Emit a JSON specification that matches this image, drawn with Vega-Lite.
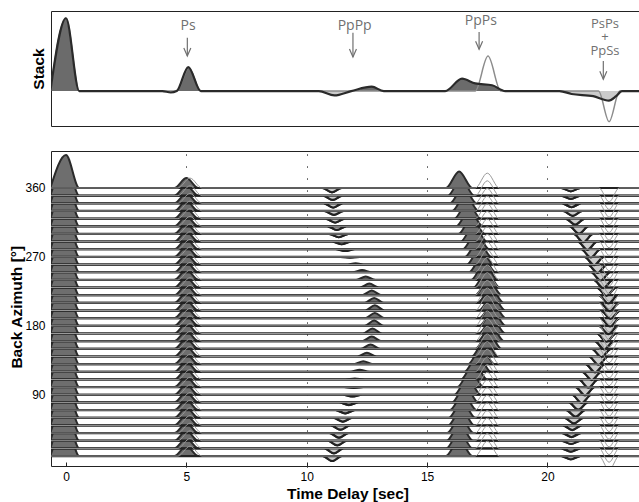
{"$schema":"https://vega.github.io/schema/vega-lite/v6.json","padding":{"left":9,"top":10,"right":0,"bottom":0},"background":"white",
"config":{"view":{"stroke":"#222","strokeWidth":1},"font":"Liberation Sans","axis":{"labelColor":"#000","titleColor":"#000","labelFontSize":12,"titleFontSize":15.5,"titleFontWeight":"bold","domain":false,"grid":false}},
"datasets":{
"sd":[{"t":-0.65,"a":0},{"t":0,"a":1},{"t":0.55,"a":0},{"t":4.0,"a":0},{"t":4.35,"a":-0.02},{"t":4.6,"a":0},{"t":5.08,"a":0.33},{"t":5.6,"a":0},{"t":10.5,"a":0},{"t":11.15,"a":-0.06},{"t":11.85,"a":0},{"t":12.7,"a":0.06},{"t":13.2,"a":0},{"t":15.75,"a":0},{"t":16.45,"a":0.17},{"t":17.0,"a":0.105},{"t":17.7,"a":0.08},{"t":18.25,"a":0},{"t":20.5,"a":0},{"t":21.0,"a":-0.04},{"t":21.9,"a":-0.07},{"t":22.55,"a":-0.13},{"t":22.85,"a":-0.07},{"t":23.1,"a":0},{"t":24.2,"a":0}],
"sg":[{"t":-0.65,"a":0},{"t":0,"a":1},{"t":0.55,"a":0},{"t":4.6,"a":0},{"t":5.1,"a":0.32},{"t":5.6,"a":0},{"t":17.0,"a":0},{"t":17.53,"a":0.48},{"t":18.06,"a":0},{"t":22.12,"a":0},{"t":22.56,"a":-0.42},{"t":23.0,"a":0},{"t":24.2,"a":0}],
"lab":[{"t":5.07,"y":0.894,"s":"Ps"},{"t":11.99,"y":0.894,"s":"PpPp"},{"t":17.23,"y":0.963,"s":"PpPs"}],
"lab2":[{"t":22.39,"y":0.928,"s":["PsPs","+","PpSs"]}],
"arr":[{"t":5.04,"y1":0.733,"y2":0.482},{"t":11.92,"y1":0.802,"y2":0.468},{"t":17.16,"y1":0.812,"y2":0.574},{"t":22.32,"y1":0.413,"y2":0.162}],
"td":[
{"b":10,"t":-0.65,"a":0},{"b":10,"t":0,"a":1},{"b":10,"t":0.55,"a":0},{"b":10,"t":4.5,"a":0},{"b":10,"t":5,"a":0.3},{"b":10,"t":5.5,"a":0},{"b":10,"t":10.66,"a":0},{"b":10,"t":11.06,"a":-0.15},{"b":10,"t":11.46,"a":0},{"b":10,"t":15.78,"a":0},{"b":10,"t":16.33,"a":0.5},{"b":10,"t":16.88,"a":0},{"b":10,"t":20.57,"a":0},{"b":10,"t":20.97,"a":-0.1},{"b":10,"t":21.37,"a":0},{"b":10,"t":24.2,"a":0},
{"b":20,"t":-0.65,"a":0},{"b":20,"t":0,"a":1},{"b":20,"t":0.55,"a":0},{"b":20,"t":4.5,"a":0},{"b":20,"t":5,"a":0.3},{"b":20,"t":5.5,"a":0},{"b":20,"t":10.73,"a":0},{"b":20,"t":11.13,"a":-0.15},{"b":20,"t":11.53,"a":0},{"b":20,"t":15.79,"a":0},{"b":20,"t":16.34,"a":0.5},{"b":20,"t":16.89,"a":0},{"b":20,"t":20.57,"a":0},{"b":20,"t":20.97,"a":-0.1},{"b":20,"t":21.37,"a":0},{"b":20,"t":24.2,"a":0},
{"b":30,"t":-0.65,"a":0},{"b":30,"t":0,"a":1},{"b":30,"t":0.55,"a":0},{"b":30,"t":4.5,"a":0},{"b":30,"t":5,"a":0.3},{"b":30,"t":5.5,"a":0},{"b":30,"t":10.87,"a":0},{"b":30,"t":11.27,"a":-0.14},{"b":30,"t":11.67,"a":0},{"b":30,"t":15.81,"a":0},{"b":30,"t":16.36,"a":0.5},{"b":30,"t":16.91,"a":0},{"b":30,"t":20.58,"a":0},{"b":30,"t":20.98,"a":-0.1},{"b":30,"t":21.38,"a":0},{"b":30,"t":24.2,"a":0},
{"b":40,"t":-0.65,"a":0},{"b":40,"t":0,"a":1},{"b":40,"t":0.55,"a":0},{"b":40,"t":4.5,"a":0},{"b":40,"t":5,"a":0.3},{"b":40,"t":5.5,"a":0},{"b":40,"t":10.94,"a":0},{"b":40,"t":11.34,"a":-0.14},{"b":40,"t":11.74,"a":0},{"b":40,"t":15.83,"a":0},{"b":40,"t":16.38,"a":0.5},{"b":40,"t":16.93,"a":0},{"b":40,"t":20.6,"a":0},{"b":40,"t":21.0,"a":-0.12},{"b":40,"t":21.4,"a":0},{"b":40,"t":24.2,"a":0},
{"b":50,"t":-0.65,"a":0},{"b":50,"t":0,"a":1},{"b":50,"t":0.55,"a":0},{"b":50,"t":4.5,"a":0},{"b":50,"t":5,"a":0.3},{"b":50,"t":5.5,"a":0},{"b":50,"t":11.0,"a":0},{"b":50,"t":11.4,"a":-0.13},{"b":50,"t":11.8,"a":0},{"b":50,"t":15.87,"a":0},{"b":50,"t":16.42,"a":0.5},{"b":50,"t":16.97,"a":0},{"b":50,"t":20.63,"a":0},{"b":50,"t":21.03,"a":-0.14},{"b":50,"t":21.43,"a":0},{"b":50,"t":24.2,"a":0},
{"b":60,"t":-0.65,"a":0},{"b":60,"t":0,"a":1},{"b":60,"t":0.55,"a":0},{"b":60,"t":4.5,"a":0},{"b":60,"t":5,"a":0.3},{"b":60,"t":5.5,"a":0},{"b":60,"t":11.1,"a":0},{"b":60,"t":11.5,"a":-0.12},{"b":60,"t":11.9,"a":0},{"b":60,"t":15.9,"a":0},{"b":60,"t":16.45,"a":0.5},{"b":60,"t":17.0,"a":0},{"b":60,"t":20.7,"a":0},{"b":60,"t":21.1,"a":-0.17},{"b":60,"t":21.5,"a":0},{"b":60,"t":24.2,"a":0},
{"b":70,"t":-0.65,"a":0},{"b":70,"t":0,"a":1},{"b":70,"t":0.55,"a":0},{"b":70,"t":4.5,"a":0},{"b":70,"t":5,"a":0.3},{"b":70,"t":5.5,"a":0},{"b":70,"t":11.2,"a":0},{"b":70,"t":11.6,"a":-0.1},{"b":70,"t":12.0,"a":0},{"b":70,"t":15.95,"a":0},{"b":70,"t":16.5,"a":0.5},{"b":70,"t":17.05,"a":0},{"b":70,"t":20.77,"a":0},{"b":70,"t":21.17,"a":-0.2},{"b":70,"t":21.57,"a":0},{"b":70,"t":24.2,"a":0},
{"b":80,"t":-0.65,"a":0},{"b":80,"t":0,"a":1},{"b":80,"t":0.55,"a":0},{"b":80,"t":4.5,"a":0},{"b":80,"t":5,"a":0.3},{"b":80,"t":5.5,"a":0},{"b":80,"t":11.35,"a":0},{"b":80,"t":11.75,"a":-0.08},{"b":80,"t":12.15,"a":0},{"b":80,"t":16.03,"a":0},{"b":80,"t":16.58,"a":0.5},{"b":80,"t":17.13,"a":0},{"b":80,"t":20.88,"a":0},{"b":80,"t":21.28,"a":-0.22},{"b":80,"t":21.68,"a":0},{"b":80,"t":24.2,"a":0},
{"b":90,"t":-0.65,"a":0},{"b":90,"t":0,"a":1},{"b":90,"t":0.55,"a":0},{"b":90,"t":4.5,"a":0},{"b":90,"t":5,"a":0.3},{"b":90,"t":5.5,"a":0},{"b":90,"t":11.5,"a":0},{"b":90,"t":11.9,"a":-0.05},{"b":90,"t":12.3,"a":0},{"b":90,"t":16.13,"a":0},{"b":90,"t":16.68,"a":0.5},{"b":90,"t":17.23,"a":0},{"b":90,"t":21.02,"a":0},{"b":90,"t":21.42,"a":-0.25},{"b":90,"t":21.82,"a":0},{"b":90,"t":24.2,"a":0},
{"b":100,"t":-0.65,"a":0},{"b":100,"t":0,"a":1},{"b":100,"t":0.55,"a":0},{"b":100,"t":4.5,"a":0},{"b":100,"t":5,"a":0.3},{"b":100,"t":5.5,"a":0},{"b":100,"t":11.55,"a":0},{"b":100,"t":11.95,"a":-0.02},{"b":100,"t":12.35,"a":0},{"b":100,"t":16.25,"a":0},{"b":100,"t":16.8,"a":0.5},{"b":100,"t":17.35,"a":0},{"b":100,"t":21.16,"a":0},{"b":100,"t":21.56,"a":-0.25},{"b":100,"t":21.96,"a":0},{"b":100,"t":24.2,"a":0},
{"b":110,"t":-0.65,"a":0},{"b":110,"t":0,"a":1},{"b":110,"t":0.55,"a":0},{"b":110,"t":4.5,"a":0},{"b":110,"t":5,"a":0.3},{"b":110,"t":5.5,"a":0},{"b":110,"t":11.6,"a":0},{"b":110,"t":12.0,"a":0.03},{"b":110,"t":12.4,"a":0},{"b":110,"t":16.4,"a":0},{"b":110,"t":16.95,"a":0.5},{"b":110,"t":17.5,"a":0},{"b":110,"t":21.3,"a":0},{"b":110,"t":21.7,"a":-0.25},{"b":110,"t":22.1,"a":0},{"b":110,"t":24.2,"a":0},
{"b":120,"t":-0.65,"a":0},{"b":120,"t":0,"a":1},{"b":120,"t":0.55,"a":0},{"b":120,"t":4.5,"a":0},{"b":120,"t":5,"a":0.3},{"b":120,"t":5.5,"a":0},{"b":120,"t":11.8,"a":0},{"b":120,"t":12.2,"a":0.06},{"b":120,"t":12.6,"a":0},{"b":120,"t":16.55,"a":0},{"b":120,"t":17.1,"a":0.5},{"b":120,"t":17.65,"a":0},{"b":120,"t":21.44,"a":0},{"b":120,"t":21.84,"a":-0.25},{"b":120,"t":22.24,"a":0},{"b":120,"t":24.2,"a":0},
{"b":130,"t":-0.65,"a":0},{"b":130,"t":0,"a":1},{"b":130,"t":0.55,"a":0},{"b":130,"t":4.5,"a":0},{"b":130,"t":5,"a":0.3},{"b":130,"t":5.5,"a":0},{"b":130,"t":11.95,"a":0},{"b":130,"t":12.35,"a":0.09},{"b":130,"t":12.75,"a":0},{"b":130,"t":16.7,"a":0},{"b":130,"t":17.25,"a":0.5},{"b":130,"t":17.8,"a":0},{"b":130,"t":21.58,"a":0},{"b":130,"t":21.98,"a":-0.25},{"b":130,"t":22.38,"a":0},{"b":130,"t":24.2,"a":0},
{"b":140,"t":-0.65,"a":0},{"b":140,"t":0,"a":1},{"b":140,"t":0.55,"a":0},{"b":140,"t":4.5,"a":0},{"b":140,"t":5,"a":0.3},{"b":140,"t":5.5,"a":0},{"b":140,"t":12.1,"a":0},{"b":140,"t":12.5,"a":0.11},{"b":140,"t":12.9,"a":0},{"b":140,"t":16.85,"a":0},{"b":140,"t":17.4,"a":0.5},{"b":140,"t":17.95,"a":0},{"b":140,"t":21.72,"a":0},{"b":140,"t":22.12,"a":-0.25},{"b":140,"t":22.52,"a":0},{"b":140,"t":24.2,"a":0},
{"b":150,"t":-0.65,"a":0},{"b":150,"t":0,"a":1},{"b":150,"t":0.55,"a":0},{"b":150,"t":4.5,"a":0},{"b":150,"t":5,"a":0.3},{"b":150,"t":5.5,"a":0},{"b":150,"t":12.25,"a":0},{"b":150,"t":12.65,"a":0.13},{"b":150,"t":13.05,"a":0},{"b":150,"t":17.0,"a":0},{"b":150,"t":17.55,"a":0.48},{"b":150,"t":18.1,"a":0},{"b":150,"t":21.84,"a":0},{"b":150,"t":22.24,"a":-0.25},{"b":150,"t":22.64,"a":0},{"b":150,"t":24.2,"a":0},
{"b":160,"t":-0.65,"a":0},{"b":160,"t":0,"a":1},{"b":160,"t":0.55,"a":0},{"b":160,"t":4.5,"a":0},{"b":160,"t":5,"a":0.3},{"b":160,"t":5.5,"a":0},{"b":160,"t":12.3,"a":0},{"b":160,"t":12.7,"a":0.14},{"b":160,"t":13.1,"a":0},{"b":160,"t":17.1,"a":0},{"b":160,"t":17.65,"a":0.46},{"b":160,"t":18.2,"a":0},{"b":160,"t":21.96,"a":0},{"b":160,"t":22.36,"a":-0.25},{"b":160,"t":22.76,"a":0},{"b":160,"t":24.2,"a":0},
{"b":170,"t":-0.65,"a":0},{"b":170,"t":0,"a":1},{"b":170,"t":0.55,"a":0},{"b":170,"t":4.5,"a":0},{"b":170,"t":5,"a":0.3},{"b":170,"t":5.5,"a":0},{"b":170,"t":12.33,"a":0},{"b":170,"t":12.73,"a":0.15},{"b":170,"t":13.13,"a":0},{"b":170,"t":17.15,"a":0},{"b":170,"t":17.7,"a":0.45},{"b":170,"t":18.25,"a":0},{"b":170,"t":22.05,"a":0},{"b":170,"t":22.45,"a":-0.25},{"b":170,"t":22.85,"a":0},{"b":170,"t":24.2,"a":0},
{"b":180,"t":-0.65,"a":0},{"b":180,"t":0,"a":1},{"b":180,"t":0.55,"a":0},{"b":180,"t":4.5,"a":0},{"b":180,"t":5,"a":0.3},{"b":180,"t":5.5,"a":0},{"b":180,"t":12.4,"a":0},{"b":180,"t":12.8,"a":0.16},{"b":180,"t":13.2,"a":0},{"b":180,"t":17.17,"a":0},{"b":180,"t":17.72,"a":0.45},{"b":180,"t":18.27,"a":0},{"b":180,"t":22.13,"a":0},{"b":180,"t":22.53,"a":-0.25},{"b":180,"t":22.93,"a":0},{"b":180,"t":24.2,"a":0},
{"b":190,"t":-0.65,"a":0},{"b":190,"t":0,"a":1},{"b":190,"t":0.55,"a":0},{"b":190,"t":4.5,"a":0},{"b":190,"t":5,"a":0.3},{"b":190,"t":5.5,"a":0},{"b":190,"t":12.43,"a":0},{"b":190,"t":12.83,"a":0.16},{"b":190,"t":13.23,"a":0},{"b":190,"t":17.17,"a":0},{"b":190,"t":17.72,"a":0.45},{"b":190,"t":18.27,"a":0},{"b":190,"t":22.2,"a":0},{"b":190,"t":22.6,"a":-0.25},{"b":190,"t":23.0,"a":0},{"b":190,"t":24.2,"a":0},
{"b":200,"t":-0.65,"a":0},{"b":200,"t":0,"a":1},{"b":200,"t":0.55,"a":0},{"b":200,"t":4.5,"a":0},{"b":200,"t":5,"a":0.3},{"b":200,"t":5.5,"a":0},{"b":200,"t":12.43,"a":0},{"b":200,"t":12.83,"a":0.16},{"b":200,"t":13.23,"a":0},{"b":200,"t":17.15,"a":0},{"b":200,"t":17.7,"a":0.45},{"b":200,"t":18.25,"a":0},{"b":200,"t":22.22,"a":0},{"b":200,"t":22.62,"a":-0.25},{"b":200,"t":23.02,"a":0},{"b":200,"t":24.2,"a":0},
{"b":210,"t":-0.65,"a":0},{"b":210,"t":0,"a":1},{"b":210,"t":0.55,"a":0},{"b":210,"t":4.5,"a":0},{"b":210,"t":5,"a":0.3},{"b":210,"t":5.5,"a":0},{"b":210,"t":12.4,"a":0},{"b":210,"t":12.8,"a":0.15},{"b":210,"t":13.2,"a":0},{"b":210,"t":17.09,"a":0},{"b":210,"t":17.64,"a":0.45},{"b":210,"t":18.19,"a":0},{"b":210,"t":22.19,"a":0},{"b":210,"t":22.59,"a":-0.25},{"b":210,"t":22.99,"a":0},{"b":210,"t":24.2,"a":0},
{"b":220,"t":-0.65,"a":0},{"b":220,"t":0,"a":1},{"b":220,"t":0.55,"a":0},{"b":220,"t":4.5,"a":0},{"b":220,"t":5,"a":0.3},{"b":220,"t":5.5,"a":0},{"b":220,"t":12.3,"a":0},{"b":220,"t":12.7,"a":0.14},{"b":220,"t":13.1,"a":0},{"b":220,"t":17.0,"a":0},{"b":220,"t":17.55,"a":0.46},{"b":220,"t":18.1,"a":0},{"b":220,"t":22.13,"a":0},{"b":220,"t":22.53,"a":-0.25},{"b":220,"t":22.93,"a":0},{"b":220,"t":24.2,"a":0},
{"b":230,"t":-0.65,"a":0},{"b":230,"t":0,"a":1},{"b":230,"t":0.55,"a":0},{"b":230,"t":4.5,"a":0},{"b":230,"t":5,"a":0.3},{"b":230,"t":5.5,"a":0},{"b":230,"t":12.2,"a":0},{"b":230,"t":12.6,"a":0.12},{"b":230,"t":13.0,"a":0},{"b":230,"t":16.92,"a":0},{"b":230,"t":17.47,"a":0.48},{"b":230,"t":18.02,"a":0},{"b":230,"t":22.05,"a":0},{"b":230,"t":22.45,"a":-0.25},{"b":230,"t":22.85,"a":0},{"b":230,"t":24.2,"a":0},
{"b":240,"t":-0.65,"a":0},{"b":240,"t":0,"a":1},{"b":240,"t":0.55,"a":0},{"b":240,"t":4.5,"a":0},{"b":240,"t":5,"a":0.3},{"b":240,"t":5.5,"a":0},{"b":240,"t":12.05,"a":0},{"b":240,"t":12.45,"a":0.1},{"b":240,"t":12.85,"a":0},{"b":240,"t":16.83,"a":0},{"b":240,"t":17.38,"a":0.5},{"b":240,"t":17.93,"a":0},{"b":240,"t":21.92,"a":0},{"b":240,"t":22.32,"a":-0.25},{"b":240,"t":22.72,"a":0},{"b":240,"t":24.2,"a":0},
{"b":250,"t":-0.65,"a":0},{"b":250,"t":0,"a":1},{"b":250,"t":0.55,"a":0},{"b":250,"t":4.5,"a":0},{"b":250,"t":5,"a":0.3},{"b":250,"t":5.5,"a":0},{"b":250,"t":11.9,"a":0},{"b":250,"t":12.3,"a":0.07},{"b":250,"t":12.7,"a":0},{"b":250,"t":16.74,"a":0},{"b":250,"t":17.29,"a":0.5},{"b":250,"t":17.84,"a":0},{"b":250,"t":21.81,"a":0},{"b":250,"t":22.21,"a":-0.25},{"b":250,"t":22.61,"a":0},{"b":250,"t":24.2,"a":0},
{"b":260,"t":-0.65,"a":0},{"b":260,"t":0,"a":1},{"b":260,"t":0.55,"a":0},{"b":260,"t":4.5,"a":0},{"b":260,"t":5,"a":0.3},{"b":260,"t":5.5,"a":0},{"b":260,"t":11.63,"a":0},{"b":260,"t":12.03,"a":0.04},{"b":260,"t":12.43,"a":0},{"b":260,"t":16.65,"a":0},{"b":260,"t":17.2,"a":0.5},{"b":260,"t":17.75,"a":0},{"b":260,"t":21.68,"a":0},{"b":260,"t":22.08,"a":-0.25},{"b":260,"t":22.48,"a":0},{"b":260,"t":24.2,"a":0},
{"b":270,"t":-0.65,"a":0},{"b":270,"t":0,"a":1},{"b":270,"t":0.55,"a":0},{"b":270,"t":4.5,"a":0},{"b":270,"t":5,"a":0.3},{"b":270,"t":5.5,"a":0},{"b":270,"t":11.4,"a":0},{"b":270,"t":11.8,"a":-0.02},{"b":270,"t":12.2,"a":0},{"b":270,"t":16.57,"a":0},{"b":270,"t":17.12,"a":0.5},{"b":270,"t":17.67,"a":0},{"b":270,"t":21.54,"a":0},{"b":270,"t":21.94,"a":-0.25},{"b":270,"t":22.34,"a":0},{"b":270,"t":24.2,"a":0},
{"b":280,"t":-0.65,"a":0},{"b":280,"t":0,"a":1},{"b":280,"t":0.55,"a":0},{"b":280,"t":4.5,"a":0},{"b":280,"t":5,"a":0.3},{"b":280,"t":5.5,"a":0},{"b":280,"t":11.2,"a":0},{"b":280,"t":11.6,"a":-0.05},{"b":280,"t":12.0,"a":0},{"b":280,"t":16.48,"a":0},{"b":280,"t":17.03,"a":0.5},{"b":280,"t":17.58,"a":0},{"b":280,"t":21.4,"a":0},{"b":280,"t":21.8,"a":-0.25},{"b":280,"t":22.2,"a":0},{"b":280,"t":24.2,"a":0},
{"b":290,"t":-0.65,"a":0},{"b":290,"t":0,"a":1},{"b":290,"t":0.55,"a":0},{"b":290,"t":4.5,"a":0},{"b":290,"t":5,"a":0.3},{"b":290,"t":5.5,"a":0},{"b":290,"t":11.05,"a":0},{"b":290,"t":11.45,"a":-0.08},{"b":290,"t":11.85,"a":0},{"b":290,"t":16.39,"a":0},{"b":290,"t":16.94,"a":0.5},{"b":290,"t":17.49,"a":0},{"b":290,"t":21.26,"a":0},{"b":290,"t":21.66,"a":-0.25},{"b":290,"t":22.06,"a":0},{"b":290,"t":24.2,"a":0},
{"b":300,"t":-0.65,"a":0},{"b":300,"t":0,"a":1},{"b":300,"t":0.55,"a":0},{"b":300,"t":4.5,"a":0},{"b":300,"t":5,"a":0.3},{"b":300,"t":5.5,"a":0},{"b":300,"t":10.93,"a":0},{"b":300,"t":11.33,"a":-0.1},{"b":300,"t":11.73,"a":0},{"b":300,"t":16.3,"a":0},{"b":300,"t":16.85,"a":0.5},{"b":300,"t":17.4,"a":0},{"b":300,"t":21.09,"a":0},{"b":300,"t":21.49,"a":-0.25},{"b":300,"t":21.89,"a":0},{"b":300,"t":24.2,"a":0},
{"b":310,"t":-0.65,"a":0},{"b":310,"t":0,"a":1},{"b":310,"t":0.55,"a":0},{"b":310,"t":4.5,"a":0},{"b":310,"t":5,"a":0.3},{"b":310,"t":5.5,"a":0},{"b":310,"t":10.85,"a":0},{"b":310,"t":11.25,"a":-0.11},{"b":310,"t":11.65,"a":0},{"b":310,"t":16.21,"a":0},{"b":310,"t":16.76,"a":0.5},{"b":310,"t":17.31,"a":0},{"b":310,"t":20.91,"a":0},{"b":310,"t":21.31,"a":-0.22},{"b":310,"t":21.71,"a":0},{"b":310,"t":24.2,"a":0},
{"b":320,"t":-0.65,"a":0},{"b":320,"t":0,"a":1},{"b":320,"t":0.55,"a":0},{"b":320,"t":4.5,"a":0},{"b":320,"t":5,"a":0.3},{"b":320,"t":5.5,"a":0},{"b":320,"t":10.78,"a":0},{"b":320,"t":11.18,"a":-0.12},{"b":320,"t":11.58,"a":0},{"b":320,"t":16.13,"a":0},{"b":320,"t":16.68,"a":0.5},{"b":320,"t":17.23,"a":0},{"b":320,"t":20.75,"a":0},{"b":320,"t":21.15,"a":-0.18},{"b":320,"t":21.55,"a":0},{"b":320,"t":24.2,"a":0},
{"b":330,"t":-0.65,"a":0},{"b":330,"t":0,"a":1},{"b":330,"t":0.55,"a":0},{"b":330,"t":4.5,"a":0},{"b":330,"t":5,"a":0.3},{"b":330,"t":5.5,"a":0},{"b":330,"t":10.73,"a":0},{"b":330,"t":11.13,"a":-0.12},{"b":330,"t":11.53,"a":0},{"b":330,"t":16.04,"a":0},{"b":330,"t":16.59,"a":0.5},{"b":330,"t":17.14,"a":0},{"b":330,"t":20.65,"a":0},{"b":330,"t":21.05,"a":-0.15},{"b":330,"t":21.45,"a":0},{"b":330,"t":24.2,"a":0},
{"b":340,"t":-0.65,"a":0},{"b":340,"t":0,"a":1},{"b":340,"t":0.55,"a":0},{"b":340,"t":4.5,"a":0},{"b":340,"t":5,"a":0.3},{"b":340,"t":5.5,"a":0},{"b":340,"t":10.7,"a":0},{"b":340,"t":11.1,"a":-0.13},{"b":340,"t":11.5,"a":0},{"b":340,"t":15.95,"a":0},{"b":340,"t":16.5,"a":0.5},{"b":340,"t":17.05,"a":0},{"b":340,"t":20.6,"a":0},{"b":340,"t":21.0,"a":-0.12},{"b":340,"t":21.4,"a":0},{"b":340,"t":24.2,"a":0},
{"b":350,"t":-0.65,"a":0},{"b":350,"t":0,"a":1},{"b":350,"t":0.55,"a":0},{"b":350,"t":4.5,"a":0},{"b":350,"t":5,"a":0.3},{"b":350,"t":5.5,"a":0},{"b":350,"t":10.68,"a":0},{"b":350,"t":11.08,"a":-0.13},{"b":350,"t":11.48,"a":0},{"b":350,"t":15.86,"a":0},{"b":350,"t":16.41,"a":0.5},{"b":350,"t":16.96,"a":0},{"b":350,"t":20.57,"a":0},{"b":350,"t":20.97,"a":-0.1},{"b":350,"t":21.37,"a":0},{"b":350,"t":24.2,"a":0},
{"b":360,"t":-0.65,"a":0},{"b":360,"t":0,"a":1},{"b":360,"t":0.55,"a":0},{"b":360,"t":4.5,"a":0},{"b":360,"t":5,"a":0.3},{"b":360,"t":5.5,"a":0},{"b":360,"t":10.65,"a":0},{"b":360,"t":11.05,"a":-0.13},{"b":360,"t":11.45,"a":0},{"b":360,"t":15.78,"a":0},{"b":360,"t":16.33,"a":0.5},{"b":360,"t":16.88,"a":0},{"b":360,"t":20.57,"a":0},{"b":360,"t":20.97,"a":-0.1},{"b":360,"t":21.37,"a":0},{"b":360,"t":24.2,"a":0}
],
"tg":[
{"b":10,"t":-0.65,"a":0},{"b":10,"t":4.65,"a":0},{"b":10,"t":5.15,"a":0.3},{"b":10,"t":5.65,"a":0},{"b":10,"t":17.0,"a":0},{"b":10,"t":17.5,"a":0.45},{"b":10,"t":18.0,"a":0},{"b":10,"t":22.14,"a":0},{"b":10,"t":22.56,"a":-0.42},{"b":10,"t":22.98,"a":0},{"b":10,"t":24.2,"a":0},
{"b":20,"t":-0.65,"a":0},{"b":20,"t":4.65,"a":0},{"b":20,"t":5.15,"a":0.3},{"b":20,"t":5.65,"a":0},{"b":20,"t":17.0,"a":0},{"b":20,"t":17.5,"a":0.45},{"b":20,"t":18.0,"a":0},{"b":20,"t":22.14,"a":0},{"b":20,"t":22.56,"a":-0.42},{"b":20,"t":22.98,"a":0},{"b":20,"t":24.2,"a":0},
{"b":30,"t":-0.65,"a":0},{"b":30,"t":4.65,"a":0},{"b":30,"t":5.15,"a":0.3},{"b":30,"t":5.65,"a":0},{"b":30,"t":17.0,"a":0},{"b":30,"t":17.5,"a":0.45},{"b":30,"t":18.0,"a":0},{"b":30,"t":22.14,"a":0},{"b":30,"t":22.56,"a":-0.42},{"b":30,"t":22.98,"a":0},{"b":30,"t":24.2,"a":0},
{"b":40,"t":-0.65,"a":0},{"b":40,"t":4.65,"a":0},{"b":40,"t":5.15,"a":0.3},{"b":40,"t":5.65,"a":0},{"b":40,"t":17.0,"a":0},{"b":40,"t":17.5,"a":0.45},{"b":40,"t":18.0,"a":0},{"b":40,"t":22.14,"a":0},{"b":40,"t":22.56,"a":-0.42},{"b":40,"t":22.98,"a":0},{"b":40,"t":24.2,"a":0},
{"b":50,"t":-0.65,"a":0},{"b":50,"t":4.65,"a":0},{"b":50,"t":5.15,"a":0.3},{"b":50,"t":5.65,"a":0},{"b":50,"t":17.0,"a":0},{"b":50,"t":17.5,"a":0.45},{"b":50,"t":18.0,"a":0},{"b":50,"t":22.14,"a":0},{"b":50,"t":22.56,"a":-0.42},{"b":50,"t":22.98,"a":0},{"b":50,"t":24.2,"a":0},
{"b":60,"t":-0.65,"a":0},{"b":60,"t":4.65,"a":0},{"b":60,"t":5.15,"a":0.3},{"b":60,"t":5.65,"a":0},{"b":60,"t":17.0,"a":0},{"b":60,"t":17.5,"a":0.45},{"b":60,"t":18.0,"a":0},{"b":60,"t":22.14,"a":0},{"b":60,"t":22.56,"a":-0.42},{"b":60,"t":22.98,"a":0},{"b":60,"t":24.2,"a":0},
{"b":70,"t":-0.65,"a":0},{"b":70,"t":4.65,"a":0},{"b":70,"t":5.15,"a":0.3},{"b":70,"t":5.65,"a":0},{"b":70,"t":17.0,"a":0},{"b":70,"t":17.5,"a":0.45},{"b":70,"t":18.0,"a":0},{"b":70,"t":22.14,"a":0},{"b":70,"t":22.56,"a":-0.42},{"b":70,"t":22.98,"a":0},{"b":70,"t":24.2,"a":0},
{"b":80,"t":-0.65,"a":0},{"b":80,"t":4.65,"a":0},{"b":80,"t":5.15,"a":0.3},{"b":80,"t":5.65,"a":0},{"b":80,"t":17.0,"a":0},{"b":80,"t":17.5,"a":0.45},{"b":80,"t":18.0,"a":0},{"b":80,"t":22.14,"a":0},{"b":80,"t":22.56,"a":-0.42},{"b":80,"t":22.98,"a":0},{"b":80,"t":24.2,"a":0},
{"b":90,"t":-0.65,"a":0},{"b":90,"t":4.65,"a":0},{"b":90,"t":5.15,"a":0.3},{"b":90,"t":5.65,"a":0},{"b":90,"t":17.0,"a":0},{"b":90,"t":17.5,"a":0.45},{"b":90,"t":18.0,"a":0},{"b":90,"t":22.14,"a":0},{"b":90,"t":22.56,"a":-0.42},{"b":90,"t":22.98,"a":0},{"b":90,"t":24.2,"a":0},
{"b":100,"t":-0.65,"a":0},{"b":100,"t":4.65,"a":0},{"b":100,"t":5.15,"a":0.3},{"b":100,"t":5.65,"a":0},{"b":100,"t":17.0,"a":0},{"b":100,"t":17.5,"a":0.45},{"b":100,"t":18.0,"a":0},{"b":100,"t":22.14,"a":0},{"b":100,"t":22.56,"a":-0.42},{"b":100,"t":22.98,"a":0},{"b":100,"t":24.2,"a":0},
{"b":110,"t":-0.65,"a":0},{"b":110,"t":4.65,"a":0},{"b":110,"t":5.15,"a":0.3},{"b":110,"t":5.65,"a":0},{"b":110,"t":17.0,"a":0},{"b":110,"t":17.5,"a":0.45},{"b":110,"t":18.0,"a":0},{"b":110,"t":22.14,"a":0},{"b":110,"t":22.56,"a":-0.42},{"b":110,"t":22.98,"a":0},{"b":110,"t":24.2,"a":0},
{"b":120,"t":-0.65,"a":0},{"b":120,"t":4.65,"a":0},{"b":120,"t":5.15,"a":0.3},{"b":120,"t":5.65,"a":0},{"b":120,"t":17.0,"a":0},{"b":120,"t":17.5,"a":0.45},{"b":120,"t":18.0,"a":0},{"b":120,"t":22.14,"a":0},{"b":120,"t":22.56,"a":-0.42},{"b":120,"t":22.98,"a":0},{"b":120,"t":24.2,"a":0},
{"b":130,"t":-0.65,"a":0},{"b":130,"t":4.65,"a":0},{"b":130,"t":5.15,"a":0.3},{"b":130,"t":5.65,"a":0},{"b":130,"t":17.0,"a":0},{"b":130,"t":17.5,"a":0.45},{"b":130,"t":18.0,"a":0},{"b":130,"t":22.14,"a":0},{"b":130,"t":22.56,"a":-0.42},{"b":130,"t":22.98,"a":0},{"b":130,"t":24.2,"a":0},
{"b":140,"t":-0.65,"a":0},{"b":140,"t":4.65,"a":0},{"b":140,"t":5.15,"a":0.3},{"b":140,"t":5.65,"a":0},{"b":140,"t":17.0,"a":0},{"b":140,"t":17.5,"a":0.45},{"b":140,"t":18.0,"a":0},{"b":140,"t":22.14,"a":0},{"b":140,"t":22.56,"a":-0.42},{"b":140,"t":22.98,"a":0},{"b":140,"t":24.2,"a":0},
{"b":150,"t":-0.65,"a":0},{"b":150,"t":4.65,"a":0},{"b":150,"t":5.15,"a":0.3},{"b":150,"t":5.65,"a":0},{"b":150,"t":17.0,"a":0},{"b":150,"t":17.5,"a":0.45},{"b":150,"t":18.0,"a":0},{"b":150,"t":22.14,"a":0},{"b":150,"t":22.56,"a":-0.42},{"b":150,"t":22.98,"a":0},{"b":150,"t":24.2,"a":0},
{"b":160,"t":-0.65,"a":0},{"b":160,"t":4.65,"a":0},{"b":160,"t":5.15,"a":0.3},{"b":160,"t":5.65,"a":0},{"b":160,"t":17.0,"a":0},{"b":160,"t":17.5,"a":0.45},{"b":160,"t":18.0,"a":0},{"b":160,"t":22.14,"a":0},{"b":160,"t":22.56,"a":-0.42},{"b":160,"t":22.98,"a":0},{"b":160,"t":24.2,"a":0},
{"b":170,"t":-0.65,"a":0},{"b":170,"t":4.65,"a":0},{"b":170,"t":5.15,"a":0.3},{"b":170,"t":5.65,"a":0},{"b":170,"t":17.0,"a":0},{"b":170,"t":17.5,"a":0.45},{"b":170,"t":18.0,"a":0},{"b":170,"t":22.14,"a":0},{"b":170,"t":22.56,"a":-0.42},{"b":170,"t":22.98,"a":0},{"b":170,"t":24.2,"a":0},
{"b":180,"t":-0.65,"a":0},{"b":180,"t":4.65,"a":0},{"b":180,"t":5.15,"a":0.3},{"b":180,"t":5.65,"a":0},{"b":180,"t":17.0,"a":0},{"b":180,"t":17.5,"a":0.45},{"b":180,"t":18.0,"a":0},{"b":180,"t":22.14,"a":0},{"b":180,"t":22.56,"a":-0.42},{"b":180,"t":22.98,"a":0},{"b":180,"t":24.2,"a":0},
{"b":190,"t":-0.65,"a":0},{"b":190,"t":4.65,"a":0},{"b":190,"t":5.15,"a":0.3},{"b":190,"t":5.65,"a":0},{"b":190,"t":17.0,"a":0},{"b":190,"t":17.5,"a":0.45},{"b":190,"t":18.0,"a":0},{"b":190,"t":22.14,"a":0},{"b":190,"t":22.56,"a":-0.42},{"b":190,"t":22.98,"a":0},{"b":190,"t":24.2,"a":0},
{"b":200,"t":-0.65,"a":0},{"b":200,"t":4.65,"a":0},{"b":200,"t":5.15,"a":0.3},{"b":200,"t":5.65,"a":0},{"b":200,"t":17.0,"a":0},{"b":200,"t":17.5,"a":0.45},{"b":200,"t":18.0,"a":0},{"b":200,"t":22.14,"a":0},{"b":200,"t":22.56,"a":-0.42},{"b":200,"t":22.98,"a":0},{"b":200,"t":24.2,"a":0},
{"b":210,"t":-0.65,"a":0},{"b":210,"t":4.65,"a":0},{"b":210,"t":5.15,"a":0.3},{"b":210,"t":5.65,"a":0},{"b":210,"t":17.0,"a":0},{"b":210,"t":17.5,"a":0.45},{"b":210,"t":18.0,"a":0},{"b":210,"t":22.14,"a":0},{"b":210,"t":22.56,"a":-0.42},{"b":210,"t":22.98,"a":0},{"b":210,"t":24.2,"a":0},
{"b":220,"t":-0.65,"a":0},{"b":220,"t":4.65,"a":0},{"b":220,"t":5.15,"a":0.3},{"b":220,"t":5.65,"a":0},{"b":220,"t":17.0,"a":0},{"b":220,"t":17.5,"a":0.45},{"b":220,"t":18.0,"a":0},{"b":220,"t":22.14,"a":0},{"b":220,"t":22.56,"a":-0.42},{"b":220,"t":22.98,"a":0},{"b":220,"t":24.2,"a":0},
{"b":230,"t":-0.65,"a":0},{"b":230,"t":4.65,"a":0},{"b":230,"t":5.15,"a":0.3},{"b":230,"t":5.65,"a":0},{"b":230,"t":17.0,"a":0},{"b":230,"t":17.5,"a":0.45},{"b":230,"t":18.0,"a":0},{"b":230,"t":22.14,"a":0},{"b":230,"t":22.56,"a":-0.42},{"b":230,"t":22.98,"a":0},{"b":230,"t":24.2,"a":0},
{"b":240,"t":-0.65,"a":0},{"b":240,"t":4.65,"a":0},{"b":240,"t":5.15,"a":0.3},{"b":240,"t":5.65,"a":0},{"b":240,"t":17.0,"a":0},{"b":240,"t":17.5,"a":0.45},{"b":240,"t":18.0,"a":0},{"b":240,"t":22.14,"a":0},{"b":240,"t":22.56,"a":-0.42},{"b":240,"t":22.98,"a":0},{"b":240,"t":24.2,"a":0},
{"b":250,"t":-0.65,"a":0},{"b":250,"t":4.65,"a":0},{"b":250,"t":5.15,"a":0.3},{"b":250,"t":5.65,"a":0},{"b":250,"t":17.0,"a":0},{"b":250,"t":17.5,"a":0.45},{"b":250,"t":18.0,"a":0},{"b":250,"t":22.14,"a":0},{"b":250,"t":22.56,"a":-0.42},{"b":250,"t":22.98,"a":0},{"b":250,"t":24.2,"a":0},
{"b":260,"t":-0.65,"a":0},{"b":260,"t":4.65,"a":0},{"b":260,"t":5.15,"a":0.3},{"b":260,"t":5.65,"a":0},{"b":260,"t":17.0,"a":0},{"b":260,"t":17.5,"a":0.45},{"b":260,"t":18.0,"a":0},{"b":260,"t":22.14,"a":0},{"b":260,"t":22.56,"a":-0.42},{"b":260,"t":22.98,"a":0},{"b":260,"t":24.2,"a":0},
{"b":270,"t":-0.65,"a":0},{"b":270,"t":4.65,"a":0},{"b":270,"t":5.15,"a":0.3},{"b":270,"t":5.65,"a":0},{"b":270,"t":17.0,"a":0},{"b":270,"t":17.5,"a":0.45},{"b":270,"t":18.0,"a":0},{"b":270,"t":22.14,"a":0},{"b":270,"t":22.56,"a":-0.42},{"b":270,"t":22.98,"a":0},{"b":270,"t":24.2,"a":0},
{"b":280,"t":-0.65,"a":0},{"b":280,"t":4.65,"a":0},{"b":280,"t":5.15,"a":0.3},{"b":280,"t":5.65,"a":0},{"b":280,"t":17.0,"a":0},{"b":280,"t":17.5,"a":0.45},{"b":280,"t":18.0,"a":0},{"b":280,"t":22.14,"a":0},{"b":280,"t":22.56,"a":-0.42},{"b":280,"t":22.98,"a":0},{"b":280,"t":24.2,"a":0},
{"b":290,"t":-0.65,"a":0},{"b":290,"t":4.65,"a":0},{"b":290,"t":5.15,"a":0.3},{"b":290,"t":5.65,"a":0},{"b":290,"t":17.0,"a":0},{"b":290,"t":17.5,"a":0.45},{"b":290,"t":18.0,"a":0},{"b":290,"t":22.14,"a":0},{"b":290,"t":22.56,"a":-0.42},{"b":290,"t":22.98,"a":0},{"b":290,"t":24.2,"a":0},
{"b":300,"t":-0.65,"a":0},{"b":300,"t":4.65,"a":0},{"b":300,"t":5.15,"a":0.3},{"b":300,"t":5.65,"a":0},{"b":300,"t":17.0,"a":0},{"b":300,"t":17.5,"a":0.45},{"b":300,"t":18.0,"a":0},{"b":300,"t":22.14,"a":0},{"b":300,"t":22.56,"a":-0.42},{"b":300,"t":22.98,"a":0},{"b":300,"t":24.2,"a":0},
{"b":310,"t":-0.65,"a":0},{"b":310,"t":4.65,"a":0},{"b":310,"t":5.15,"a":0.3},{"b":310,"t":5.65,"a":0},{"b":310,"t":17.0,"a":0},{"b":310,"t":17.5,"a":0.45},{"b":310,"t":18.0,"a":0},{"b":310,"t":22.14,"a":0},{"b":310,"t":22.56,"a":-0.42},{"b":310,"t":22.98,"a":0},{"b":310,"t":24.2,"a":0},
{"b":320,"t":-0.65,"a":0},{"b":320,"t":4.65,"a":0},{"b":320,"t":5.15,"a":0.3},{"b":320,"t":5.65,"a":0},{"b":320,"t":17.0,"a":0},{"b":320,"t":17.5,"a":0.45},{"b":320,"t":18.0,"a":0},{"b":320,"t":22.14,"a":0},{"b":320,"t":22.56,"a":-0.42},{"b":320,"t":22.98,"a":0},{"b":320,"t":24.2,"a":0},
{"b":330,"t":-0.65,"a":0},{"b":330,"t":4.65,"a":0},{"b":330,"t":5.15,"a":0.3},{"b":330,"t":5.65,"a":0},{"b":330,"t":17.0,"a":0},{"b":330,"t":17.5,"a":0.45},{"b":330,"t":18.0,"a":0},{"b":330,"t":22.14,"a":0},{"b":330,"t":22.56,"a":-0.42},{"b":330,"t":22.98,"a":0},{"b":330,"t":24.2,"a":0},
{"b":340,"t":-0.65,"a":0},{"b":340,"t":4.65,"a":0},{"b":340,"t":5.15,"a":0.3},{"b":340,"t":5.65,"a":0},{"b":340,"t":17.0,"a":0},{"b":340,"t":17.5,"a":0.45},{"b":340,"t":18.0,"a":0},{"b":340,"t":22.14,"a":0},{"b":340,"t":22.56,"a":-0.42},{"b":340,"t":22.98,"a":0},{"b":340,"t":24.2,"a":0},
{"b":350,"t":-0.65,"a":0},{"b":350,"t":4.65,"a":0},{"b":350,"t":5.15,"a":0.3},{"b":350,"t":5.65,"a":0},{"b":350,"t":17.0,"a":0},{"b":350,"t":17.5,"a":0.45},{"b":350,"t":18.0,"a":0},{"b":350,"t":22.14,"a":0},{"b":350,"t":22.56,"a":-0.42},{"b":350,"t":22.98,"a":0},{"b":350,"t":24.2,"a":0},
{"b":360,"t":-0.65,"a":0},{"b":360,"t":4.65,"a":0},{"b":360,"t":5.15,"a":0.3},{"b":360,"t":5.65,"a":0},{"b":360,"t":17.0,"a":0},{"b":360,"t":17.5,"a":0.45},{"b":360,"t":18.0,"a":0},{"b":360,"t":22.14,"a":0},{"b":360,"t":22.56,"a":-0.42},{"b":360,"t":22.98,"a":0},{"b":360,"t":24.2,"a":0}
]},
"spacing":23,
"vconcat":[
{"width":593,"height":115,
"encoding":{"x":{"field":"t","type":"quantitative","scale":{"domain":[-0.623,24.01],"nice":false,"zero":false},"axis":null}},
"layer":[
{"data":{"name":"sd"},"mark":{"type":"area","interpolate":"monotone","color":"#6b6b6b","clip":true},
 "encoding":{"y":{"datum":0,"type":"quantitative","title":"Stack","scale":{"domain":[-0.48,1.1],"nice":false,"zero":false},"axis":{"labels":false,"ticks":false,"titlePadding":5}},"y2":{"datum":0},"yOffset":{"field":"a","type":"quantitative","scale":{"domain":[0,1],"range":[0,-72.8],"clamp":true}}}},
{"data":{"name":"sd"},"mark":{"type":"area","interpolate":"monotone","color":"#cbcbcb","clip":true},
 "encoding":{"y":{"datum":0,"type":"quantitative","title":"Stack","scale":{"domain":[-0.48,1.1],"nice":false,"zero":false}},"y2":{"datum":0},"yOffset":{"field":"a","type":"quantitative","scale":{"domain":[-1,0],"range":[72.8,0],"clamp":true}}}},
{"data":{"name":"sg"},"mark":{"type":"line","interpolate":"monotone","color":"#8c8c8c","strokeWidth":1.5,"clip":true},
 "encoding":{"y":{"datum":0,"type":"quantitative","title":"Stack","scale":{"domain":[-0.48,1.1],"nice":false,"zero":false}},"yOffset":{"field":"a","type":"quantitative","scale":{"domain":[0,1],"range":[0,-72.8]}}}},
{"data":{"name":"sd"},"mark":{"type":"line","interpolate":"monotone","color":"#2a2a2a","strokeWidth":2.2,"clip":true},
 "encoding":{"y":{"datum":0,"type":"quantitative","title":"Stack","scale":{"domain":[-0.48,1.1],"nice":false,"zero":false}},"yOffset":{"field":"a","type":"quantitative","scale":{"domain":[0,1],"range":[0,-72.8]}}}},
{"data":{"name":"lab"},"mark":{"type":"text","font":"Open Sans","fontSize":14,"color":"#707070","baseline":"middle"},
 "encoding":{"y":{"field":"y","type":"quantitative","title":"Stack","scale":{"domain":[-0.48,1.1],"nice":false,"zero":false}},"text":{"field":"s"}}},
{"data":{"name":"lab2"},"mark":{"type":"text","font":"Open Sans","fontSize":13,"lineHeight":13.5,"color":"#707070","baseline":"middle"},
 "encoding":{"y":{"field":"y","type":"quantitative","title":"Stack","scale":{"domain":[-0.48,1.1],"nice":false,"zero":false}},"text":{"field":"s"}}},
{"data":{"name":"arr"},"mark":{"type":"rule","color":"#707070","strokeWidth":1.2},
 "encoding":{"y":{"field":"y1","type":"quantitative","title":"Stack","scale":{"domain":[-0.48,1.1],"nice":false,"zero":false}},"y2":{"field":"y2"}}},
{"data":{"name":"arr"},"mark":{"type":"point","shape":"M-1,-2.3L0,0L1,-2.3","size":49,"filled":false,"color":"#707070","strokeWidth":1.2,"opacity":1},
 "encoding":{"y":{"field":"y2","type":"quantitative","title":"Stack","scale":{"domain":[-0.48,1.1],"nice":false,"zero":false}}}}
],
"resolve":{"scale":{"yOffset":"independent"}}},
{"width":593,"height":315,
"encoding":{
 "x":{"field":"t","type":"quantitative","stack":null,"scale":{"domain":[-0.623,24.01],"nice":false,"zero":false},"axis":{"values":[0,5,10,15,20],"title":"Time Delay [sec]","grid":true,"gridDash":[1.5,10.5],"gridColor":"#444","gridOpacity":{"condition":{"test":"datum.value===0","value":0},"value":1},"tickSize":-4,"tickColor":"#222","labelPadding":9,"titlePadding":4}},
 "y":{"field":"b","type":"ordinal","scale":{"type":"point","domain":[410,400,390,380,370,360,350,340,330,320,310,300,290,280,270,260,250,240,230,220,210,200,190,180,170,160,150,140,130,120,110,100,90,80,70,60,50,40,30,20,10,0],"range":[-1.3,312.7],"padding":0},"axis":{"values":[90,180,270,360],"title":"Back Azimuth [°]","ticks":false,"labelPadding":6,"titlePadding":0}},
 "detail":{"field":"b","type":"nominal"}},
"layer":[
{"data":{"name":"td"},"mark":{"type":"area","orient":"vertical","interpolate":"monotone","fill":"#6e6e6e","stroke":"#2a2a2a","strokeWidth":2,"clip":true},
 "encoding":{"y2":{"field":"b"},"yOffset":{"field":"a","type":"quantitative","scale":{"domain":[0,1],"range":[0,-33]}}}},
{"data":{"name":"td"},"mark":{"type":"area","orient":"vertical","interpolate":"monotone","fill":"#cdcdcd","stroke":"#222222","strokeWidth":2.2,"clip":true},
 "encoding":{"y2":{"field":"b"},"yOffset":{"field":"a","type":"quantitative","scale":{"domain":[-1,0],"range":[33,0],"clamp":true}}}},
{"data":{"name":"tg"},"mark":{"type":"line","orient":"vertical","interpolate":"monotone","color":"#9a9a9a","strokeWidth":1,"clip":true},
 "encoding":{"yOffset":{"field":"a","type":"quantitative","scale":{"domain":[0,1],"range":[0,-33]}}}}
],
"resolve":{"scale":{"yOffset":"independent"}}}
]}
